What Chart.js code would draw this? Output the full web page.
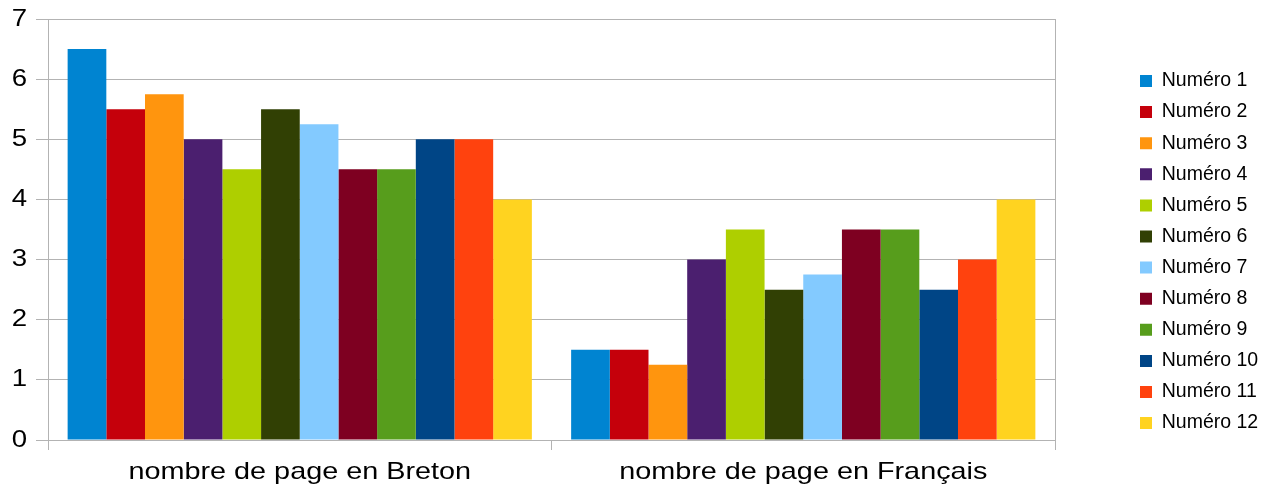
<!DOCTYPE html>
<html>
<head>
<meta charset="utf-8">
<script src="https://cdn.jsdelivr.net/npm/chart.js@4"></script>
<style>
html,body{margin:0;padding:0;background:#fff;}
#wrap{width:1269px;height:484px;position:relative;}
</style>
</head>
<body>
<div id="wrap"><canvas id="c" width="1269" height="484"></canvas></div>
<script>
const categories = ["nombre de page en Breton", "nombre de page en Français"];
const seriesNames = ["Numéro 1","Numéro 2","Numéro 3","Numéro 4","Numéro 5","Numéro 6","Numéro 7","Numéro 8","Numéro 9","Numéro 10","Numéro 11","Numéro 12"];
const bretonValues = [6.5, 5.5, 5.75, 5, 4.5, 5.5, 5.25, 4.5, 4.5, 5, 5, 4];
const francaisValues = [1.5, 1.5, 1.25, 3, 3.5, 2.5, 2.75, 3.5, 3.5, 2.5, 3, 4];
const seriesColors = ["#0084d1","#c5000b","#ff950e","#4b1f6f","#aecf00","#314004","#83caff","#7e0021","#579d1c","#004586","#ff420e","#ffd320"];
const yTicks = [0,1,2,3,4,5,6,7];

const FONT = "'Liberation Sans', Arial, sans-serif";
const PLOT_LEFT = 48, PLOT_RIGHT = 1055, PLOT_TOP = 19, PLOT_BOTTOM = 440;
const LEG_FS = 19.5, LEG_PAD = 11.6;
const GRID = '#b3b3b3';

function stretchLabels(scale, sx) {
  if (scale._stretched) return;
  const orig = scale.drawLabels;
  scale.drawLabels = function(ca) {
    const ctx = this.ctx;
    const of = ctx.fillText;
    ctx.fillText = function(t, x, y, mw) {
      this.save();
      this.translate(x, y);
      this.scale(sx, 1);
      of.call(this, t, 0, 0, mw);
      this.restore();
    };
    try { orig.call(this, ca); } finally { ctx.fillText = of; }
  };
  scale._stretched = true;
}

const placePlugin = {
  id: 'placePlugin',
  beforeLayout(chart) {
    const lg = chart.legend;
    if (lg && !lg._patched) {
      const f = lg.fit;
      lg.fit = function() { f.call(this); this.width = 1269 - PLOT_RIGHT; };
      lg._patched = true;
    }
  },
  afterLayout(chart) {
    const lg = chart.legend;
    lg.left = 1140 - LEG_PAD;
    lg.right = 1269;
    lg.top = 81 - LEG_PAD - LEG_FS/2;
    stretchLabels(chart.scales.x, 1.2);
    stretchLabels(chart.scales.y, 1.15);
  }
};

const datasets = seriesNames.map((name, i) => ({
  label: name,
  data: [bretonValues[i], francaisValues[i]],
  backgroundColor: seriesColors[i],
  borderWidth: 0,
  categoryPercentage: 0.922,
  barPercentage: 1.0
}));

new Chart(document.getElementById('c'), {
  type: 'bar',
  data: { labels: categories, datasets },
  plugins: [placePlugin],
  options: {
    responsive: false,
    animation: false,
    devicePixelRatio: 1,
    layout: { padding: { left: 0, top: PLOT_TOP, right: 0, bottom: 0 } },
    plugins: {
      legend: {
        position: 'right',
        align: 'start',
        labels: {
          boxWidth: 12, boxHeight: 12, padding: LEG_PAD, color: '#000',
          font: { family: FONT, size: LEG_FS }
        }
      },
      tooltip: { enabled: false }
    },
    scales: {
      x: {
        grid: {
          color: (c) => (c.index === 1 ? 'rgba(0,0,0,0)' : GRID),
          tickColor: GRID,
          lineWidth: 1, tickLength: 10, offset: true, drawTicks: true
        },
        border: { color: GRID, width: 1 },
        ticks: { color: '#000', font: { family: FONT, size: 24 }, padding: 8, maxRotation: 0 },
        afterFit(s) { s.height = 484 - PLOT_BOTTOM; s.paddingLeft = 0; s.paddingRight = 0; }
      },
      y: {
        min: 0, max: 7,
        afterBuildTicks(s) { s.ticks = yTicks.map(v => ({ value: v })); },
        grid: { color: GRID, lineWidth: 1, tickLength: 12 },
        border: { color: GRID, width: 1 },
        ticks: { color: '#000', font: { family: FONT, size: 24 }, padding: 9 },
        afterFit(s) { s.width = PLOT_LEFT; s.paddingTop = 0; s.paddingBottom = 0; }
      }
    }
  }
});
</script>
</body>
</html>
